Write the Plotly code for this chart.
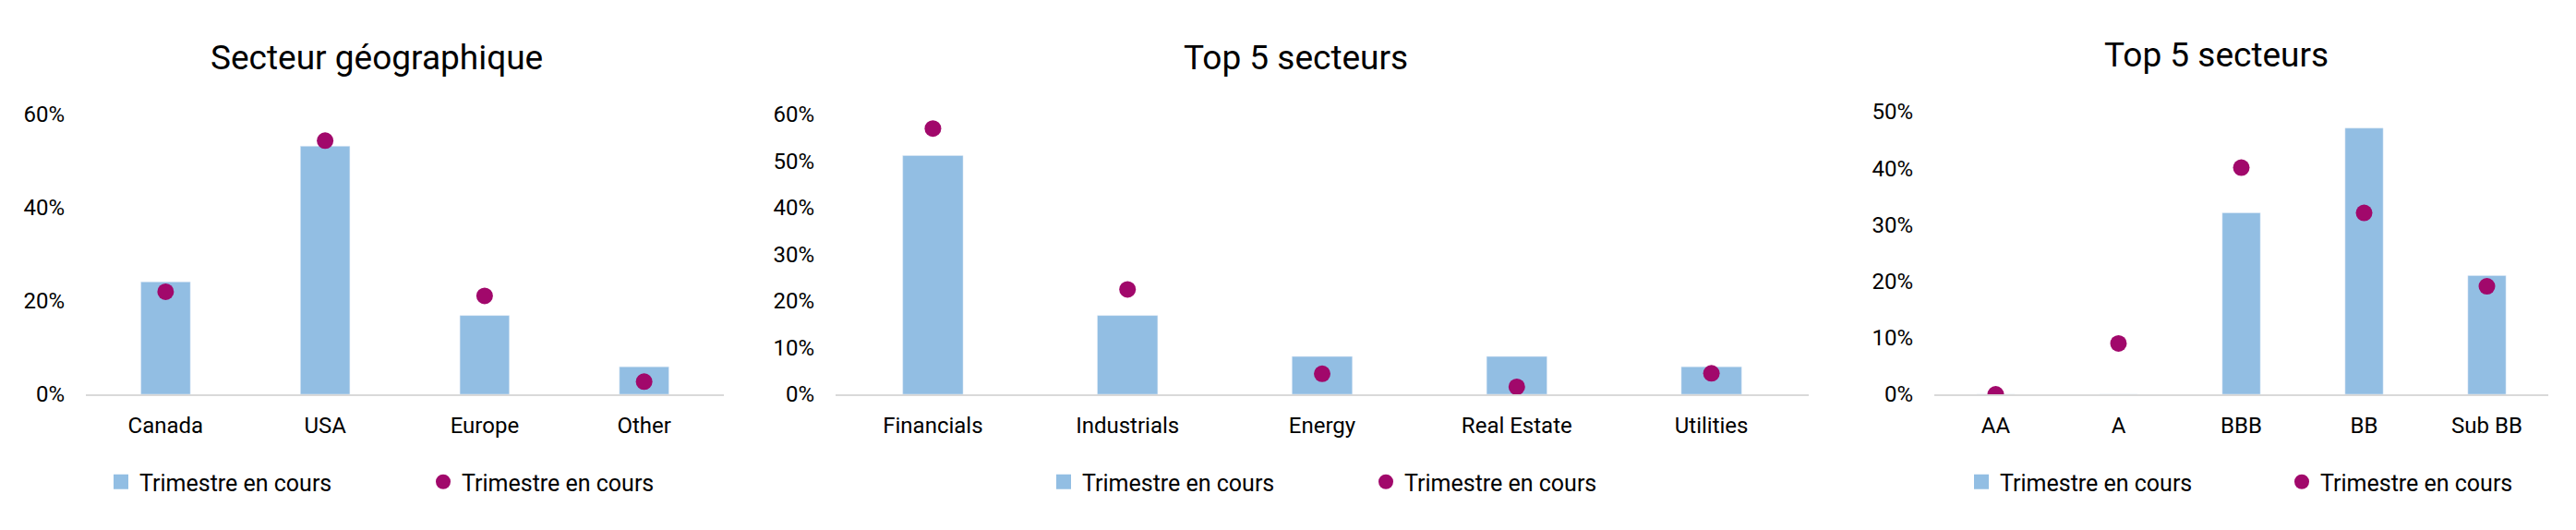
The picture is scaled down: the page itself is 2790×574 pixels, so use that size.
import plotly.graph_objects as go

W, H = 2790, 574

# ---------------- data ----------------
geo_cats = ["Canada", "USA", "Europe", "Other"]
geo_bar = [0.241, 0.532, 0.169, 0.059]
geo_dot = [0.220, 0.544, 0.211, 0.027]

sect_cats = ["Financials", "Industrials", "Energy", "Real Estate", "Utilities"]
sect_bar = [0.512, 0.169, 0.081, 0.081, 0.059]
sect_dot = [0.570, 0.225, 0.044, 0.016, 0.045]

rating_cats = ["AA", "A", "BBB", "BB", "Sub BB"]
rating_bar = [0.0, 0.0, 0.321, 0.471, 0.210]
rating_dot = [0.0, 0.090, 0.401, 0.321, 0.191]

series_bar_name = "Trimestre en cours"
series_dot_name = "Trimestre en cours"

titles = ["Secteur géographique", "Top 5 secteurs", "Top 5 secteurs"]

# ---------------- style ----------------
BAR_COLOR = "#92BEE3"
DOT_COLOR = "#A1086B"
AXIS_COLOR = "#D9D9D9"
FONT = "Roboto, 'Open Sans', sans-serif"
TICK_SIZE = 24
LEGEND_SIZE = 25

def px_x(v):
    return v / W

def px_y(v):
    return 1 - v / H

panels = [
    dict(cats=geo_cats, bar=geo_bar, dot=geo_dot, xd=(93, 784), ytop=124,
         rng=0.6, dtick=0.2, title=titles[0], tx=408, ty=62, lx=131, lx2=480),
    dict(cats=sect_cats, bar=sect_bar, dot=sect_dot, xd=(905, 1959), ytop=124,
         rng=0.6, dtick=0.1, title=titles[1], tx=1404, ty=62, lx=1152, lx2=1501),
    dict(cats=rating_cats, bar=rating_bar, dot=rating_dot, xd=(2095, 2760), ytop=121,
         rng=0.5, dtick=0.1, title=titles[2], tx=2400, ty=59, lx=2146, lx2=2493),
]

fig = go.Figure()
layout = dict(
    width=W, height=H, autosize=False,
    margin=dict(l=0, r=0, t=0, b=0, autoexpand=False),
    paper_bgcolor="white", plot_bgcolor="white",
    font=dict(family=FONT, size=TICK_SIZE, color="#000000"),
    bargap=0.69,
    showlegend=True,
    annotations=[],
)

ZERO_Y = 427

for i, p in enumerate(panels):
    n = "" if i == 0 else str(i + 1)
    xa, ya = "x" + n, "y" + n
    leg = "legend" + n
    fig.add_trace(go.Bar(
        x=p["cats"], y=p["bar"], name=series_bar_name, marker_color=BAR_COLOR,
        xaxis=xa, yaxis=ya, legend=leg, showlegend=False, hoverinfo="x+y",
    ))
    # legend entry for the bar series (larger square symbol than Plotly's bar icon)
    fig.add_trace(go.Scatter(
        x=[None], y=[None], name=series_bar_name, mode="markers",
        marker=dict(color=BAR_COLOR, size=20, symbol="square"),
        xaxis=xa, yaxis=ya, legend=leg, showlegend=True, hoverinfo="skip",
        legendwidth=(p["lx2"] - p["lx"]) - 45,
    ))
    fig.add_trace(go.Scatter(
        x=p["cats"], y=p["dot"], name=series_dot_name, mode="markers",
        marker=dict(color=DOT_COLOR, size=18, symbol="circle"),
        xaxis=xa, yaxis=ya, legend=leg,
    ))
    layout["xaxis" + n] = dict(
        domain=[px_x(p["xd"][0]), px_x(p["xd"][1])], anchor=ya,
        showline=True, linecolor=AXIS_COLOR, linewidth=2,
        showgrid=False, zeroline=False, ticks="", ticklabelstandoff=11,
        tickfont=dict(size=TICK_SIZE, color="#000000"), fixedrange=True,
        automargin=False,
    )
    layout["yaxis" + n] = dict(
        domain=[px_y(ZERO_Y), px_y(p["ytop"])], anchor=xa,
        range=[0, p["rng"]], dtick=p["dtick"], tickformat=".0%",
        showline=False, showgrid=False, zeroline=False, ticks="",
        ticklabelstandoff=22, tickfont=dict(size=TICK_SIZE, color="#000000"),
        fixedrange=True, automargin=False,
    )
    layout["annotations"].append(dict(
        text=p["title"], xref="paper", yref="paper",
        x=px_x(p["tx"]), y=px_y(p["ty"]), xanchor="center", yanchor="middle",
        showarrow=False, font=dict(size=37, color="#000000", family=FONT),
    ))
    layout[leg] = dict(
        orientation="h", x=px_x(p["lx"] - 20), y=px_y(522),
        xanchor="left", yanchor="middle",
        font=dict(size=LEGEND_SIZE, color="#000000", family=FONT),
        bgcolor="rgba(0,0,0,0)", borderwidth=0, traceorder="normal",
        itemsizing="trace",
    )

fig.update_layout(**layout)
fig.write_html("out.html")
